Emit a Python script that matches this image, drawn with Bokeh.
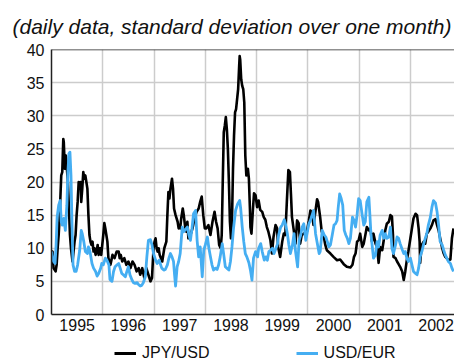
from bokeh.plotting import figure
from bokeh.layouts import column
from bokeh.models import (FixedTicker, Range1d, Legend, LegendItem, Span)
from bokeh.embed import file_html
from bokeh.resources import INLINE

title_text = "(daily data, standard deviation over one month)"
year_labels = ["1995", "1996", "1997", "1998", "1999", "2000", "2001", "2002"]
year_mid = [1995.5, 1996.5, 1997.5, 1998.5, 1999.5, 2000.5, 2001.5, 2002.5]
year_start = [1996, 1997, 1998, 1999, 2000, 2001, 2002]
y_ticks = [0, 5, 10, 15, 20, 25, 30, 35, 40]

jpy_t = [
    1995.00, 1995.02, 1995.04, 1995.08, 1995.10, 1995.12, 1995.14, 1995.16, 1995.18, 1995.19,
    1995.21, 1995.23, 1995.24, 1995.26, 1995.28, 1995.30, 1995.32, 1995.34, 1995.36, 1995.38,
    1995.41, 1995.43, 1995.45, 1995.47, 1995.49, 1995.51, 1995.53, 1995.55, 1995.57, 1995.58,
    1995.60, 1995.62, 1995.64, 1995.66, 1995.68, 1995.70, 1995.72, 1995.74, 1995.76, 1995.78,
    1995.80, 1995.82, 1995.84, 1995.86, 1995.88, 1995.90, 1995.92, 1995.94, 1995.96, 1995.97,
    1995.99, 1996.01, 1996.03, 1996.05, 1996.07, 1996.09, 1996.11, 1996.13, 1996.15, 1996.19,
    1996.23, 1996.27, 1996.31, 1996.33, 1996.35, 1996.38, 1996.42, 1996.46, 1996.50, 1996.54,
    1996.58, 1996.62, 1996.66, 1996.70, 1996.73, 1996.77, 1996.81, 1996.85, 1996.89, 1996.93,
    1996.96, 1996.99, 1997.01, 1997.03, 1997.05, 1997.07, 1997.09, 1997.11, 1997.12, 1997.16,
    1997.20, 1997.24, 1997.26, 1997.28, 1997.30, 1997.32, 1997.35, 1997.37, 1997.39, 1997.42,
    1997.46, 1997.48, 1997.50, 1997.51, 1997.53, 1997.56, 1997.58, 1997.61, 1997.63, 1997.65,
    1997.67, 1997.71, 1997.75, 1997.79, 1997.83, 1997.87, 1997.90, 1997.93, 1997.96, 1997.99,
    1998.02, 1998.06, 1998.10, 1998.14, 1998.18, 1998.21, 1998.24, 1998.27, 1998.30, 1998.32,
    1998.34, 1998.36, 1998.38, 1998.40, 1998.42, 1998.44, 1998.46, 1998.48, 1998.50, 1998.52,
    1998.54, 1998.56, 1998.58, 1998.60, 1998.62, 1998.64, 1998.66, 1998.67, 1998.68, 1998.70,
    1998.72, 1998.74, 1998.76, 1998.78, 1998.80, 1998.83, 1998.85, 1998.87, 1998.88, 1998.90,
    1998.93, 1998.95, 1998.98, 1999.01, 1999.04, 1999.07, 1999.11, 1999.14, 1999.17, 1999.20,
    1999.23, 1999.27, 1999.30, 1999.33, 1999.37, 1999.40, 1999.42, 1999.46, 1999.50, 1999.53,
    1999.56, 1999.59, 1999.62, 1999.65, 1999.67, 1999.69, 1999.72, 1999.76, 1999.79, 1999.82,
    1999.85, 1999.88, 1999.92, 1999.98, 2000.02, 2000.05, 2000.08, 2000.11, 2000.15, 2000.18,
    2000.20, 2000.24, 2000.27, 2000.30, 2000.34, 2000.37, 2000.44, 2000.50, 2000.57, 2000.63,
    2000.70, 2000.76, 2000.83, 2000.87, 2000.90, 2000.93, 2000.96, 2000.99, 2001.02, 2001.06,
    2001.09, 2001.15, 2001.19, 2001.22, 2001.25, 2001.28, 2001.32, 2001.35, 2001.38, 2001.41,
    2001.45, 2001.48, 2001.51, 2001.54, 2001.58, 2001.61, 2001.64, 2001.66, 2001.67, 2001.71,
    2001.74, 2001.77, 2001.80, 2001.84, 2001.87, 2001.90, 2001.93, 2001.96, 2002.00, 2002.03,
    2002.06, 2002.10, 2002.13, 2002.16, 2002.18, 2002.19, 2002.22, 2002.26, 2002.29, 2002.32,
    2002.35, 2002.39, 2002.42, 2002.45, 2002.49, 2002.52, 2002.55, 2002.58, 2002.62, 2002.65,
    2002.68, 2002.71, 2002.74, 2002.78, 2002.81, 2002.84,
]
jpy_v = [
    8.5, 9.5, 7.0, 6.5, 7.5, 10, 12, 15, 19, 21,
    21.5, 26.5, 26, 22, 24, 22, 20, 16, 12, 10,
    8, 9.5, 11, 12, 15, 17, 20, 19, 20, 17,
    19, 21.5, 20.5, 21, 20, 19, 15, 12, 11, 10.5,
    11, 9.5, 10, 9, 9.5, 10.5, 9, 10, 10, 9,
    10.5, 12, 13.8, 13, 12, 11, 8.5, 8, 7.5, 9,
    8.5, 9.5, 9.5, 8.5, 9, 8, 8.5, 7.5, 8, 7,
    8, 7.5, 6.5, 7, 6, 7, 5.5, 7, 6, 5,
    5.5, 10, 11, 11.5, 10, 9.5, 10, 9, 8.8, 8,
    10, 11, 15, 18.5, 17.5, 19, 20.5, 19, 16, 15,
    14, 13, 13.5, 13, 14.5, 16, 15, 13, 12.5, 14,
    11.5, 12, 13, 14.5, 15.5, 16, 17, 17.8, 15, 13,
    13, 13.5, 12, 14, 15.5, 14, 13, 10.5, 10, 12,
    20, 27.5, 28.5, 29.8, 28, 25, 20, 14, 11.5, 14,
    22, 27, 30.5, 31, 32.5, 34, 37.5, 39, 38.5, 35.5,
    34.5, 34, 32, 24, 21, 22, 20.5, 16, 13.2, 12.2,
    16, 18.3, 18, 16.2, 17.2, 15.8, 15.5, 14.7, 14.3, 13.2,
    12.5, 11.2, 9.2, 11.7, 13.5, 13, 10.2, 8.7, 11, 12.2,
    12, 17, 21.8, 21.5, 18.2, 14.7, 13, 10.7, 14.2, 13.8,
    10.7, 12, 12.2, 12.5, 14.2, 15.7, 15.3, 13.5, 15.7, 17.4,
    17, 14.7, 12.5, 12.2, 10.5, 9.7, 9.2, 8.7, 8.2, 8.3,
    7.6, 7.2, 7.1, 7.5, 8.7, 9.2, 11, 11.2, 12.2, 10.2,
    10.7, 13.2, 12.7, 13, 11, 12.2, 10.7, 10.2, 7.8, 10.2,
    9.7, 11.2, 12.7, 13.7, 14, 15, 14.8, 12, 8.7, 8.5,
    8, 7.6, 7.2, 6.5, 5.2, 6.5, 8.2, 9.5, 11.5, 13,
    14.5, 15.2, 15, 13, 11, 7.8, 10.5, 11, 10.7, 12.2,
    12.5, 13, 13.5, 14.2, 14.4, 13.5, 12.7, 11.5, 10, 9.2,
    8.7, 8.5, 8.2, 8.3, 11.5, 13,
]

eur_t = [
    1995.00, 1995.04, 1995.07, 1995.09, 1995.11, 1995.14, 1995.17, 1995.19, 1995.21, 1995.24,
    1995.27, 1995.30, 1995.32, 1995.34, 1995.36, 1995.38, 1995.40, 1995.42, 1995.45, 1995.48,
    1995.51, 1995.55, 1995.58, 1995.60, 1995.63, 1995.66, 1995.70, 1995.72, 1995.75, 1995.79,
    1995.82, 1995.86, 1995.89, 1995.92, 1995.96, 1995.98, 1996.01, 1996.05, 1996.08, 1996.12,
    1996.14, 1996.18, 1996.21, 1996.24, 1996.28, 1996.31, 1996.34, 1996.37, 1996.40, 1996.44,
    1996.47, 1996.50, 1996.53, 1996.57, 1996.60, 1996.63, 1996.67, 1996.70, 1996.73, 1996.76,
    1996.79, 1996.83, 1996.86, 1996.89, 1996.93, 1996.96, 1996.99, 1997.03, 1997.06, 1997.10,
    1997.12, 1997.15, 1997.19, 1997.22, 1997.26, 1997.29, 1997.32, 1997.35, 1997.38, 1997.40,
    1997.42, 1997.45, 1997.48, 1997.51, 1997.55, 1997.58, 1997.61, 1997.65, 1997.68, 1997.71,
    1997.74, 1997.77, 1997.81, 1997.84, 1997.87, 1997.90, 1997.94, 1997.97, 1998.00, 1998.04,
    1998.07, 1998.10, 1998.13, 1998.16, 1998.20, 1998.23, 1998.26, 1998.29, 1998.33, 1998.36,
    1998.39, 1998.42, 1998.46, 1998.49, 1998.52, 1998.55, 1998.59, 1998.63, 1998.67, 1998.69,
    1998.72, 1998.75, 1998.78, 1998.81, 1998.85, 1998.88, 1998.91, 1998.94, 1998.98, 1999.02,
    1999.04, 1999.08, 1999.11, 1999.15, 1999.18, 1999.21, 1999.24, 1999.27, 1999.31, 1999.34,
    1999.37, 1999.41, 1999.43, 1999.47, 1999.50, 1999.54, 1999.57, 1999.60, 1999.63, 1999.66,
    1999.70, 1999.73, 1999.76, 1999.80, 1999.83, 1999.86, 1999.89, 1999.92, 1999.96, 1999.99,
    2000.02, 2000.05, 2000.09, 2000.11, 2000.15, 2000.19, 2000.22, 2000.24, 2000.28, 2000.32,
    2000.35, 2000.38, 2000.41, 2000.44, 2000.48, 2000.51, 2000.54, 2000.57, 2000.59, 2000.62,
    2000.65, 2000.68, 2000.71, 2000.74, 2000.77, 2000.80, 2000.83, 2000.87, 2000.90, 2000.93,
    2000.96, 2000.99, 2001.02, 2001.06, 2001.09, 2001.12, 2001.15, 2001.19, 2001.21, 2001.23,
    2001.25, 2001.28, 2001.32, 2001.35, 2001.38, 2001.41, 2001.45, 2001.48, 2001.51, 2001.54,
    2001.58, 2001.61, 2001.64, 2001.67, 2001.71, 2001.74, 2001.77, 2001.80, 2001.84, 2001.87,
    2001.90, 2001.93, 2001.96, 2002.00, 2002.03, 2002.06, 2002.10, 2002.13, 2002.16, 2002.19,
    2002.23, 2002.26, 2002.29, 2002.32, 2002.35, 2002.39, 2002.42, 2002.45, 2002.49, 2002.52,
    2002.55, 2002.58, 2002.62, 2002.65, 2002.68, 2002.71, 2002.74, 2002.78, 2002.81, 2002.84,
]
eur_v = [
    9.5, 8.0, 7.7, 10.5, 14.7, 16.5, 17.2, 14, 13.5, 14.5,
    12.7, 16.5, 21.5, 24.3, 24.5, 21, 13.5, 7.5, 6.5, 6.5,
    7.5, 9.7, 12.7, 12.2, 11, 9.5, 9.2, 10.2, 9.5, 7.7,
    7, 6.5, 5.8, 6.2, 7, 7.7, 7.5, 8.5, 8.2, 7.5,
    5.3, 5.0, 6.5, 7.2, 7.5, 7.7, 7.0, 6.2, 6, 5.7,
    6.5, 7.2, 6.0, 5.2, 4.8, 4.7, 4.8, 4.5, 4.3, 4.4,
    4.8, 5.7, 8.7, 11.2, 11.3, 10.5, 9.2, 8.2, 7.7, 8.2,
    7.7, 7.0, 6.7, 6.8, 7.5, 8.5, 9.2, 8.7, 8, 6,
    4.3, 7.2, 8, 9.2, 13.2, 12.5, 12.8, 13.2, 12, 11.2,
    13, 15.2, 15.7, 11.2, 8.7, 10.2, 5.7, 9.7, 10.5, 11.7,
    10, 8.7, 7.5, 6.7, 7, 6.8, 7.5, 8.7, 10.7, 9,
    7.2, 7.0, 6.7, 8, 10.2, 13, 15.7, 16.7, 17.2, 16,
    13.2, 11, 9.2, 8.7, 7.8, 6.7, 5.2, 8.5, 9.5, 8.7,
    10, 10.7, 9.5, 8.2, 8.7, 8.2, 9.5, 9.7, 10, 9.2,
    9.8, 10.7, 12, 13.2, 13.5, 14.3, 13.5, 12.2, 10.5, 9.2,
    10.5, 12.2, 9.5, 7.2, 11.2, 12, 13.2, 13.7, 11.2, 12.5,
    13.7, 14.2, 15.2, 15.7, 12.2, 10.5, 9.2, 9.5, 12.7, 12,
    11.7, 11, 10.2, 10.5, 12.2, 13.5, 13.7, 14.2, 16, 18.2,
    17.5, 16.5, 12.7, 12, 11.5, 10.7, 11.5, 14.7, 14.2, 13.2,
    15, 17.5, 17.2, 15, 13.5, 14, 17, 17.7, 15, 12.2,
    10.7, 8.5, 9, 11, 10.2, 12, 12.7, 11.5, 12.2, 11.5,
    11.7, 13.2, 10, 9.2, 10.5, 11.7, 11.5, 10.7, 9.8, 9.2,
    9.5, 8.5, 8, 8.5, 7.5, 6.5, 6.2, 6, 7, 8.7,
    9.7, 10.7, 11.5, 12.2, 13.5, 14.7, 16.2, 17.2, 16.8, 15.5,
    13.5, 11, 10.5, 9.7, 9, 8.5, 8, 7.7, 7, 6.5,
]

FONT = "Liberation Sans"
JPY_COLOR = "black"
EUR_COLOR = "#45aef2"

p = figure(width=454, height=340, output_backend="svg", toolbar_location=None,
           x_range=Range1d(1995.0, 2002.86), y_range=Range1d(0, 40),
           min_border_left=51, min_border_right=0, min_border_top=49,
           min_border_bottom=26, title=title_text)
p.outline_line_color = None
p.background_fill_color = "white"
p.border_fill_color = "white"

p.title.text_font = FONT
p.title.text_font_size = "21px"
p.title.text_font_style = "italic"
p.title.text_color = "#111111"
p.title.align = "left"
p.title.offset = -39
p.title.standoff = 24

p.xgrid.ticker = FixedTicker(ticks=year_start)
p.ygrid.ticker = FixedTicker(ticks=y_ticks)
for g in (p.xgrid, p.ygrid):
    g.grid_line_color = "#cccccc"
    g.grid_line_width = 1.5

p.xaxis.ticker = FixedTicker(ticks=year_mid)
p.xaxis.major_label_overrides = {m: lab for m, lab in zip(year_mid, year_labels)}
p.yaxis.ticker = FixedTicker(ticks=y_ticks)
for ax in (p.xaxis, p.yaxis):
    ax.axis_line_color = "#222222"
    ax.axis_line_width = 1.5
    ax.major_tick_in = 0
    ax.major_tick_out = 0
    ax.minor_tick_in = 0
    ax.minor_tick_out = 0
    ax.major_label_text_font = FONT
    ax.major_label_text_font_size = "16px"
    ax.major_label_text_color = "#111111"
p.yaxis.major_label_standoff = 7
p.xaxis.major_label_standoff = 4

top_line = Span(location=40, dimension="width", line_color="#222222", line_width=1.5)
p.add_layout(top_line)

p.line(jpy_t, jpy_v, line_color=JPY_COLOR, line_width=2.6, line_join="round")
p.line(eur_t, eur_v, line_color=EUR_COLOR, line_width=2.8, line_join="round")

# legend strip below the chart: the same series, drawn out of this strip's view
q = figure(width=454, height=23, output_backend="svg", toolbar_location=None,
           x_range=Range1d(1995.0, 2002.86), y_range=Range1d(100, 101),
           x_axis_type=None, y_axis_type=None, min_border=0)
q.outline_line_color = None
q.grid.visible = False
q.border_fill_color = "white"
l1 = q.line(jpy_t, jpy_v, line_color=JPY_COLOR, line_width=3)
l2 = q.line(eur_t, eur_v, line_color=EUR_COLOR, line_width=3)
legend = Legend(items=[LegendItem(label="JPY/USD", renderers=[l1]),
                       LegendItem(label="USD/EUR", renderers=[l2])],
                orientation="horizontal", location=(63, 1), spacing=86,
                glyph_width=22, glyph_height=16, label_standoff=6,
                padding=0, margin=0, border_line_color=None,
                background_fill_alpha=0, label_text_font=FONT,
                label_text_font_size="16px", label_text_color="#111111")
q.add_layout(legend)

layout = column(p, q, spacing=0)
open("out.html", "w").write(file_html(layout, INLINE))
